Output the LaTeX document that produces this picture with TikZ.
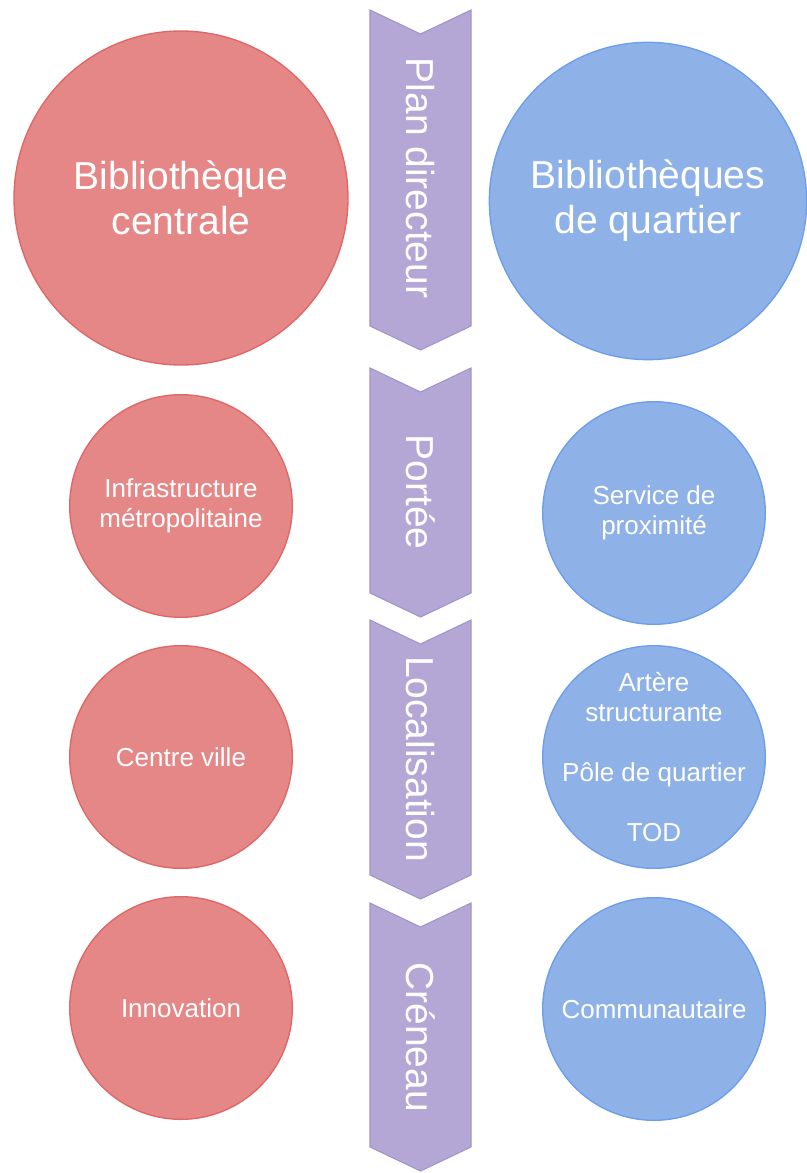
\documentclass[tikz,border=0pt]{standalone}
\usepackage{fontspec}
\setmainfont{Liberation Sans}
\usepackage{tikz}

\definecolor{redfill}{HTML}{E58787}
\definecolor{redline}{HTML}{E06666}
\definecolor{bluefill}{HTML}{8EB1E8}
\definecolor{blueline}{HTML}{6D9EEB}
\definecolor{chevfill}{HTML}{B4A7D6}
\definecolor{chevline}{HTML}{A294CB}

\begin{document}
\begin{tikzpicture}[x=0.75pt, y=-0.75pt,
    reddisc/.style={circle, draw=redline, fill=redfill, line width=1pt, inner sep=0pt, text=white, align=center},
    bluedisc/.style={circle, draw=blueline, fill=bluefill, line width=1pt, inner sep=0pt, text=white, align=center},
    bigtext/.style={font=\fontsize{29.25}{33.75}\selectfont},
    smalltext/.style={font=\fontsize{19.5}{22.5}\selectfont},
    chevron/.style={draw=chevline, fill=chevfill, line width=0.8pt},
    chevtext/.style={rotate=-90, text=white, inner sep=0pt, font=\fontsize{29.25}{33.75}\selectfont}]

      \useasboundingbox (0,0) rectangle (806,1173);

      % chevrons of the middle column
      \draw [chevron] (370, 10) -- (420.5, 34) -- (471, 10) -- (471, 326) -- (420.5, 350) -- (370, 326) -- cycle;
      \node[chevtext](plan) at (420.5, 178){Plan directeur};

      \draw [chevron] (370, 368) -- (420.5, 392) -- (471, 368) -- (471, 593) -- (420.5, 617) -- (370, 593) -- cycle;
      \node[chevtext](portee) at (420.5, 492){Portée};

      \draw [chevron] (370, 620) -- (420.5, 644) -- (471, 620) -- (471, 875) -- (420.5, 899) -- (370, 875) -- cycle;
      \node[chevtext](localisation) at (420.5, 759){Localisation};

      \draw [chevron] (370, 903) -- (420.5, 927) -- (471, 903) -- (471, 1147) -- (420.5, 1171) -- (370, 1147) -- cycle;
      \node[chevtext](creneau) at (420.5, 1037){Créneau};

      % central library (left column)
      \node[reddisc, bigtext, minimum size=250.5pt](centrale) at (181, 198){Bibliothèque\\centrale};
      \node[reddisc, smalltext, minimum size=167pt](infra) at (181, 506){Infrastructure\\métropolitaine};
      \node[reddisc, smalltext, minimum size=167pt](centreville) at (181, 757){Centre ville};
      \node[reddisc, smalltext, minimum size=167pt](innovation) at (181, 1008){Innovation};

      % neighbourhood libraries (right column)
      \node[bluedisc, bigtext, minimum size=238pt](quartier) at (648, 201){Bibliothèques\\de quartier};
      \node[bluedisc, smalltext, minimum size=167pt](proximite) at (654, 513){Service de\\proximité};
      \node[bluedisc, smalltext, minimum size=167pt, inner sep=-15pt](artere) at (654, 757){Artère\\structurante\\[22.5pt]Pôle de quartier\\[22.5pt]TOD};
      \node[bluedisc, smalltext, minimum size=167pt](communautaire) at (654, 1009){Communautaire};
    \end{tikzpicture}
\end{document}
